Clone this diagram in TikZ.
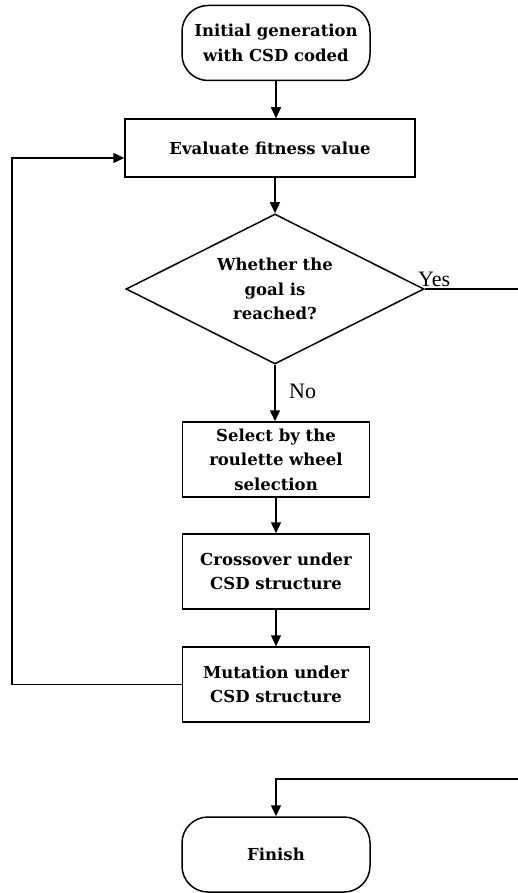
\documentclass[tikz,border=0pt]{standalone}
\usepackage{fontspec}
\setmainfont{DejaVu Serif}
\newfontfamily\labelfont{Liberation Serif}
\usetikzlibrary{shapes.geometric,arrows.meta}
\begin{document}
\begin{tikzpicture}[x=1pt,y=-1pt,
  every node/.style={font=\bfseries\fontsize{16.5}{24.5}\selectfont, align=center, inner sep=0pt},
  flow/.style={draw, line width=1.5pt},
  procbox/.style={flow, rectangle, minimum width=187pt, minimum height=75pt},
  termbox/.style={flow, rectangle, rounded corners=26pt, minimum width=188pt, minimum height=75pt},
  decision/.style={flow, diamond, minimum width=298pt, minimum height=150pt, aspect=2},
  link/.style={line width=1.5pt, -{Triangle[length=11pt,width=10pt]}},
  tag/.style={font=\labelfont\fontsize{22}{24}\selectfont}]
\useasboundingbox (0,0) rectangle (518,893);
\begin{scope}
\clip (0,0) rectangle (518,893);

% process chain
\node[termbox] (start) at (276,43) {Initial generation\\with CSD coded};
\node[flow, rectangle, minimum width=290pt, minimum height=58pt] (eval) at (270,148) {Evaluate fitness value};
\node[decision] (goal) at (275,289) {Whether the\\goal is\\reached?};
\node[procbox] (sel) at (276,459.5) {Select by the\\roulette wheel\\selection};
\node[procbox] (cross) at (276,571.5) {Crossover under\\CSD structure};
\node[procbox] (mut) at (276,684.5) {Mutation under\\CSD structure};
\node[termbox] (fin) at (276,854.5) {Finish};

% forward links
\draw[link] (start.south) -- (start.south |- eval.north);
\draw[link] (goal.north |- eval.south) -- (goal.north);
\draw[link] (goal.south) -- (goal.south |- sel.north);
\draw[link] (sel) -- (cross);
\draw[link] (cross) -- (mut);

% loop back to the evaluation step
\coordinate (loopA) at (12,684.5);
\coordinate (loopB) at (12,158);
\draw[link] (mut.west) -- (loopA) -- (loopB) -- (eval.west |- loopB);

% exit branch to the end
\coordinate (exitA) at (530,289);
\coordinate (exitB) at (530,779);
\coordinate (exitC) at (276,779);
\draw[link] (goal.east) -- (exitA) -- (exitB) -- (exitC) -- (fin.north);

% branch labels
\node[tag, anchor=base west] (yes) at (418,286) {Yes};
\node[tag, anchor=base west] (no) at (289,398) {No};
\end{scope}
\end{tikzpicture}
\end{document}
